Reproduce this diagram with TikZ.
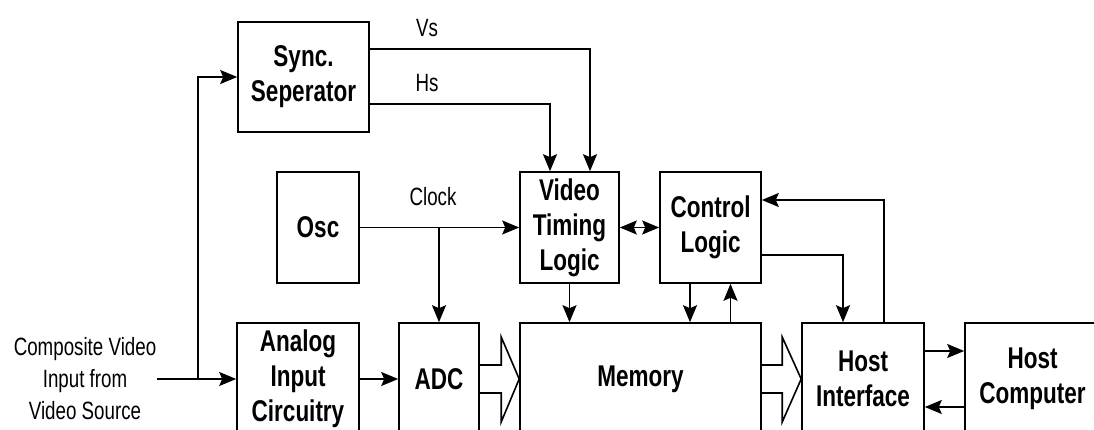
\documentclass[tikz,border=0pt]{standalone}
\usepackage{fontspec}
\setmainfont{Liberation Sans}[FakeStretch=0.75]
\usetikzlibrary{arrows.meta,calc}
\begin{document}
\begin{tikzpicture}[x=1pt,y=-1pt,
  box/.style={draw,line width=1.6pt,inner sep=0pt,align=center,
    font=\fontsize{30}{35}\selectfont\bfseries},
  lbl/.style={inner sep=0pt,align=center,font=\fontsize{25}{32}\selectfont},
  arr/.style={line width=1.6pt,-{Stealth[length=17pt,width=14pt,inset=3pt]}},
  arrb/.style={line width=1.6pt,{Stealth[length=17pt,width=14pt,inset=3pt]}-{Stealth[length=17pt,width=14pt,inset=3pt]}},
  fat/.style={line width=1.6pt,line join=miter}]
\useasboundingbox (0,0) rectangle (1094,430);
\clip (0,0) rectangle (1094,430);
% boxes
\node[box,minimum width=131pt,minimum height=110pt] (sync) at (303.5,77) {Sync.\\Seperator};
\node[box,minimum width=82pt,minimum height=111pt] (osc) at (318,227.5) {Osc};
\node[box,minimum width=99pt,minimum height=111pt] (video) at (569.5,227.5) {Video\\Timing\\Logic};
\node[box,minimum width=101pt,minimum height=111pt] (control) at (710.5,227.5) {Control\\Logic};
\node[box,minimum width=122pt,minimum height=112pt] (analog) at (298,379) {Analog\\Input\\Circuitry};
\node[box,minimum width=80pt,minimum height=112pt] (adc) at (439,379) {ADC};
\node[box,minimum width=241pt,minimum height=112pt] (memory) at (640.5,379) {Memory};
\node[box,minimum width=122pt,minimum height=112pt] (hostif) at (863,379) {Host\\Interface};
\node[box,minimum width=135pt,minimum height=112pt] (hostcomp) at (1032.5,379) {Host\\Computer};
% labels
\node[lbl] (src) at (85,379) {Composite Video\\Input from\\Video Source};
\node[lbl] (vs) at (427,28) {Vs};
\node[lbl] (hs) at (427,83) {Hs};
\node[lbl] (clk) at (433,197) {Clock};
% input
\coordinate (in) at (157,379);
\coordinate (br) at (198,379);
\draw[arr] (in) -- (analog.west);
\draw[arr] (br) |- (sync.west);
% sync signals
\draw[arr] ([yshift=28pt]sync.east) -| ([xshift=20.5pt]video.north);
\draw[arr] ([yshift=-27pt]sync.east) -| ([xshift=-19.5pt]video.north);
% clock
\coordinate (ck) at (439,227.5);
\draw[arr] (osc.east) -- (video.west);
\draw[arr] (ck) -- (adc.north);
% timing/control
\draw[arrb] (video.east) -- (control.west);
\draw[arr] (video.south) -- (video.south |- memory.north);
\draw[arr] ([xshift=-20.5pt]control.south) -- ([xshift=-20.5pt]control.south |- memory.north);
\draw[arr] ([xshift=20pt]control.south |- memory.north) -- ([xshift=20pt]control.south);
\draw[arr] ([yshift=-27.5pt]control.east) -| ([xshift=-20pt]hostif.north);
\draw[arr] ([xshift=21pt]hostif.north) |- ([yshift=27.5pt]control.east);
% analog to adc
\draw[arr] (analog.east) -- (adc.west);
% host links
\draw[arr] ([yshift=28pt]hostif.east) -- ([yshift=28pt]hostif.east -| hostcomp.west);
\draw[arr] ([yshift=-28pt]hostcomp.west) -- ([yshift=-28pt]hostcomp.west -| hostif.east);
% fat data arrows
\draw[fat] ($(adc.east)+(0,-14)$) -- ($(memory.west)+(-18,-14)$) -- ($(memory.west)+(-18,-42)$) -- (memory.west)
  -- ($(memory.west)+(-18,43)$) -- ($(memory.west)+(-18,14)$) -- ($(adc.east)+(0,14)$);
\draw[fat] ($(memory.east)+(0,-14)$) -- ($(hostif.west)+(-19,-14)$) -- ($(hostif.west)+(-19,-42)$) -- (hostif.west)
  -- ($(hostif.west)+(-19,43)$) -- ($(hostif.west)+(-19,14)$) -- ($(memory.east)+(0,14)$);
\end{tikzpicture}
\end{document}
